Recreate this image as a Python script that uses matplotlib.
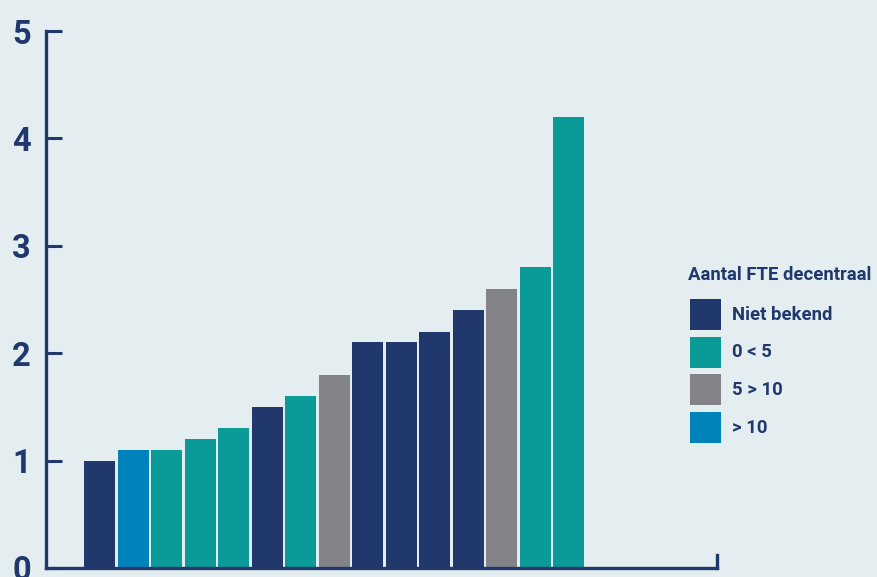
import matplotlib.pyplot as plt
from matplotlib.patches import Rectangle
import numpy as np

plt.rcParams['font.family'] = ['Roboto', 'DejaVu Sans']

# data
values = [1.0, 1.1, 1.1, 1.2, 1.3, 1.5, 1.6, 1.8, 2.1, 2.1, 2.2, 2.4, 2.6, 2.8, 4.2]
groups = ["Niet bekend", "> 10", "0 < 5", "0 < 5", "0 < 5", "Niet bekend", "0 < 5",
          "5 > 10", "Niet bekend", "Niet bekend", "Niet bekend", "Niet bekend",
          "5 > 10", "0 < 5", "0 < 5"]
legend_order = ["Niet bekend", "0 < 5", "5 > 10", "> 10"]
legend_title = "Aantal FTE decentraal"
yticks = [0, 1, 2, 3, 4, 5]

NAVY = "#20386c"
colors = {"Niet bekend": NAVY, "0 < 5": "#0a9a98", "5 > 10": "#838389", "> 10": "#0083bb"}
BG = "#e4eef0"

W, H = 877, 577
fig = plt.figure(figsize=(W / 100, H / 100), dpi=100, facecolor=BG)
ax = fig.add_axes([46 / W, (H - 568) / H, (717 - 46) / W, (568 - 31) / H])
ax.set_facecolor(BG)

x = np.arange(len(values))
ax.bar(x, values, width=0.925, color=[colors[g] for g in groups], zorder=2)

ax.set_xlim(-1.6, 18.43)
ax.set_ylim(0, 5)
ax.set_yticks(yticks)
ax.set_yticklabels([str(t) for t in yticks], fontsize=23.5, fontweight='bold', color=NAVY)
ax.tick_params(axis='y', direction='in', length=11.5, width=2.2, color=NAVY, pad=11)
ax.set_xticks([])
for s in ['top', 'right']:
    ax.spines[s].set_visible(False)
for s in ['left', 'bottom']:
    ax.spines[s].set_color(NAVY)
    ax.spines[s].set_linewidth(2.4)
    ax.spines[s].set_capstyle('projecting')
# small upward tick at the right end of the x axis
ax.plot([1, 1], [0, 13 / 537], transform=ax.transAxes,
        color=NAVY, lw=2.4, clip_on=False, solid_capstyle='projecting')

# legend, drawn in figure pixels
def fx(px):
    return px / W

def fy(py):
    return 1 - py / H

fig.text(fx(688), fy(280), legend_title, fontsize=13.3, fontweight='bold',
         color=NAVY, ha='left', va='baseline')
for i, g in enumerate(legend_order):
    top = 299 + i * 37.7
    fig.add_artist(Rectangle((fx(690), fy(top + 31)), 31 / W, 31 / H,
                             transform=fig.transFigure, facecolor=colors[g],
                             edgecolor='none'))
    fig.text(fx(732), fy(top + 15.5), g, fontsize=13.3, fontweight='bold',
             color=NAVY, ha='left', va='center')

fig.savefig("out.png", dpi=100, facecolor=BG)
